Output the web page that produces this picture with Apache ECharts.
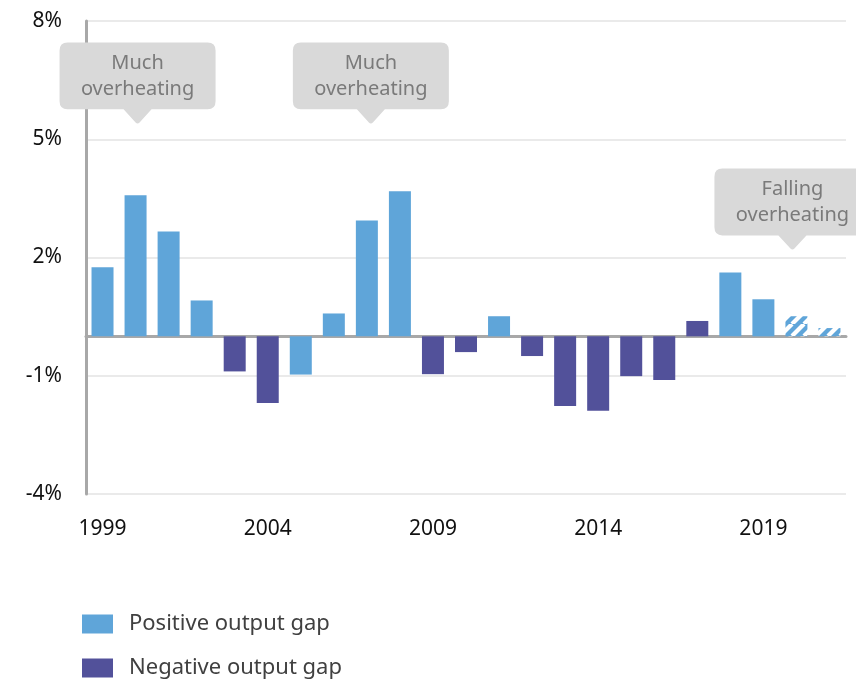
<!DOCTYPE html>
<html><head><meta charset="utf-8">
<script src="https://cdn.jsdelivr.net/npm/echarts@6/dist/echarts.min.js"></script>
<style>html,body{margin:0;padding:0;background:#fff}#c{width:856px;height:679px}</style>
</head><body><div id="c"></div>
<script>
var years = ['1999','2000','2001','2002','2003','2004','2005','2006','2007','2008','2009','2010','2011','2012','2013','2014','2015','2016','2017','2018','2019','2020','2021'];
var positiveGap = [1.75,3.58,2.66,0.91,null,null,-0.97,0.58,2.94,3.68,null,null,0.51,null,null,null,null,null,null,1.62,0.94,0.51,0.21];
var negativeGap = [null,null,null,null,-0.89,-1.69,null,null,null,null,-0.96,-0.40,null,-0.50,-1.77,-1.89,-1.01,-1.11,0.39,null,null,null,null];
var forecastYears = ['2020','2021'];
var yTicks = [-4,-1,2,5,8];
var callouts = [
  {year:'2000', value:5.4, text:'Much\noverheating', shift:2},
  {year:'2007', value:5.4, text:'Much\noverheating', shift:4},
  {year:'2020', value:2.2, text:'Falling\noverheating', shift:-4}
];

var BLUE = '#5FA5D9', PURPLE = '#52519A';
function hatch(){
  var c = document.createElement('canvas'); c.width = 12; c.height = 12;
  var g = c.getContext('2d');
  g.fillStyle = BLUE; g.fillRect(0,0,12,12);
  g.strokeStyle = '#ffffff'; g.lineWidth = 4.2;
  for (var k=-12;k<=24;k+=12){ g.beginPath(); g.moveTo(k,12); g.lineTo(k+12,0); g.stroke(); }
  return {image:c, repeat:'repeat'};
}
var pattern = hatch();
var posData = positiveGap.map(function(v,i){
  if (v === null) return null;
  if (forecastYears.indexOf(years[i]) >= 0) return {value:v, itemStyle:{color:pattern}};
  return v;
});
var calloutPath = 'path://M8,0 H148 Q156,0 156,8 V58 Q156,66 148,66 H92 L80,79 Q78,81 76,79 L64,66 H8 Q0,66 0,58 V8 Q0,0 8,0 Z';
var FONT = 'Noto Sans';
var chart = echarts.init(document.getElementById('c'), null, {renderer:'canvas'});
chart.setOption({
  animation:false,
  textStyle:{fontFamily:FONT},
  grid:{left:86, right:10, top:21, bottom:185},
  legend:{
    orient:'vertical', left:82, top:613, padding:0, itemWidth:31, itemHeight:19, itemGap:22,
    icon:'rect',
    textStyle:{fontFamily:FONT, fontSize:22, color:'#404040', padding:[0,0,0,11]},
    data:['Positive output gap','Negative output gap']
  },
  xAxis:{
    type:'category', data:years,
    axisLine:{onZero:true, lineStyle:{color:'#A8A8A8', width:3}},
    axisTick:{show:false},
    axisLabel:{interval:4, margin:25, fontSize:21, color:'#111', fontFamily:FONT}
  },
  yAxis:{
    type:'value', min:-4, max:8, interval:3,
    axisLine:{show:true, lineStyle:{color:'#A8A8A8', width:3}},
    axisTick:{show:false},
    splitLine:{lineStyle:{color:'#E3E3E3', width:1.5}},
    axisLabel:{margin:24, fontSize:21, color:'#111', fontFamily:FONT, formatter:function(v){return v+'%';}}
  },
  series:[
    {name:'Positive output gap', type:'bar', data:posData, barWidth:22, barGap:'-100%',
     itemStyle:{color:BLUE},
     markPoint:{
       symbol:calloutPath, symbolSize:[156,81],
       itemStyle:{color:'#D9D9D9'},
       label:{show:true, position:'inside', offset:[0,-7], color:'#7A7A7A', fontSize:20, lineHeight:26, fontFamily:FONT},
       data:callouts.map(function(c){return {coord:[c.year,c.value], value:c.text, symbolOffset:[c.shift,'-50%'], label:{formatter:c.text}};})
     }},
    {name:'Negative output gap', type:'bar', data:negativeGap, barWidth:22,
     itemStyle:{color:PURPLE}}
  ]
});
</script></body></html>
